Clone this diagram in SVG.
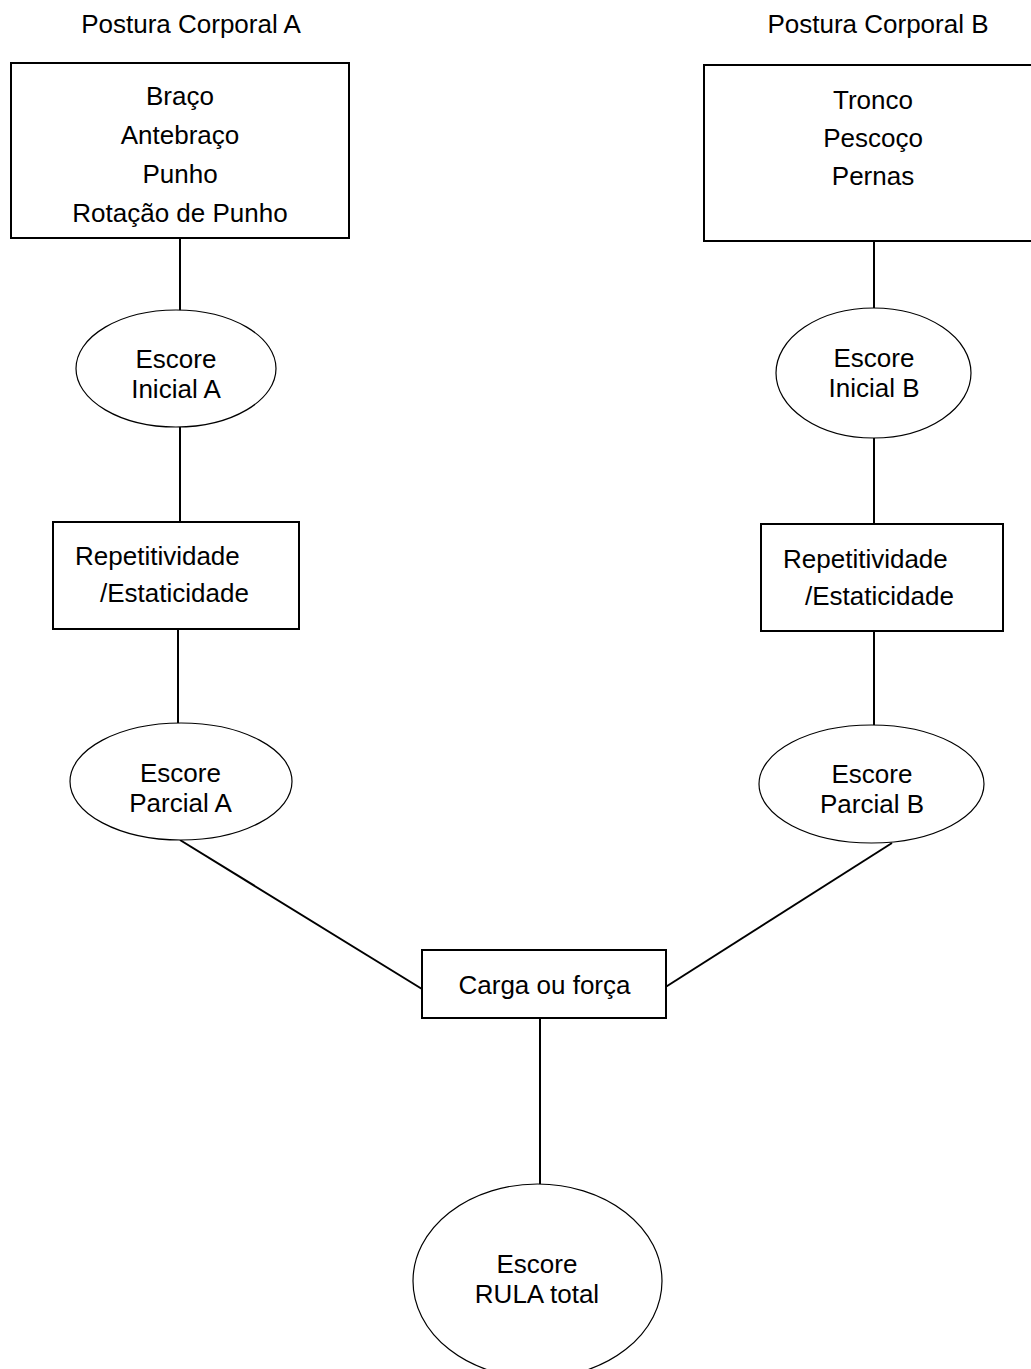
<svg xmlns="http://www.w3.org/2000/svg" width="1031" height="1369" viewBox="0 0 1031 1369">
<style>
text{font-family:"Liberation Sans",Arial,sans-serif;font-size:26px;fill:#000}
.c{text-anchor:middle}
.box{fill:#fff;stroke:#000;stroke-width:2}
.ell{fill:#fff;stroke:#000;stroke-width:1.2}
.ln{stroke:#000;stroke-width:2;fill:none}
</style>
<rect width="1031" height="1369" fill="#fff"/>
<g id="connectors">
<line class="ln" x1="180" y1="238" x2="180" y2="311"/>
<line class="ln" x1="180" y1="427" x2="180" y2="522"/>
<line class="ln" x1="178" y1="629" x2="178" y2="723"/>
<line class="ln" x1="874" y1="241" x2="874" y2="308"/>
<line class="ln" x1="874" y1="438" x2="874" y2="524"/>
<line class="ln" x1="874" y1="631" x2="874" y2="725"/>
<line class="ln" x1="180" y1="840" x2="422" y2="989"/>
<line class="ln" x1="892" y1="843" x2="664" y2="988"/>
<line class="ln" x1="540" y1="1018" x2="540" y2="1184"/>
</g>
<g id="title-a"><text class="c" x="191" y="33">Postura Corporal A</text></g>
<g id="title-b"><text class="c" x="878" y="33">Postura Corporal B</text></g>
<g id="box-a">
<rect class="box" x="11" y="63" width="338" height="175"/>
<text class="c" x="180" y="105">Braço</text>
<text class="c" x="180" y="144">Antebraço</text>
<text class="c" x="180" y="183">Punho</text>
<text class="c" x="180" y="222">Rotação de Punho</text>
</g>
<g id="box-b">
<rect class="box" x="704" y="65" width="345" height="176"/>
<text class="c" x="873" y="109">Tronco</text>
<text class="c" x="873" y="147">Pescoço</text>
<text class="c" x="873" y="185">Pernas</text>
</g>
<g id="inicial-a">
<ellipse class="ell" cx="176" cy="368.5" rx="100" ry="58.5"/>
<text class="c" x="176" y="368">Escore</text>
<text class="c" x="176" y="398">Inicial A</text>
</g>
<g id="inicial-b">
<ellipse class="ell" cx="873.5" cy="373" rx="97.5" ry="65"/>
<text class="c" x="874" y="367">Escore</text>
<text class="c" x="874" y="397">Inicial B</text>
</g>
<g id="rep-a">
<rect class="box" x="53" y="522" width="246" height="107"/>
<text x="75" y="565">Repetitividade</text>
<text x="100" y="602">/Estaticidade</text>
</g>
<g id="rep-b">
<rect class="box" x="761" y="524" width="242" height="107"/>
<text x="783" y="568">Repetitividade</text>
<text x="805" y="605">/Estaticidade</text>
</g>
<g id="parcial-a">
<ellipse class="ell" cx="181" cy="781.5" rx="111" ry="58.5"/>
<text class="c" x="180.5" y="782">Escore</text>
<text class="c" x="180.5" y="812">Parcial A</text>
</g>
<g id="parcial-b">
<ellipse class="ell" cx="871.5" cy="784" rx="112.5" ry="59"/>
<text class="c" x="872" y="783">Escore</text>
<text class="c" x="872" y="813">Parcial B</text>
</g>
<g id="carga">
<rect class="box" x="422" y="950" width="244" height="68"/>
<text class="c" x="544.5" y="994">Carga ou força</text>
</g>
<g id="rula">
<ellipse class="ell" cx="537.5" cy="1281" rx="124.5" ry="97"/>
<text class="c" x="537" y="1273">Escore</text>
<text class="c" x="537" y="1303">RULA total</text>
</g>
</svg>
